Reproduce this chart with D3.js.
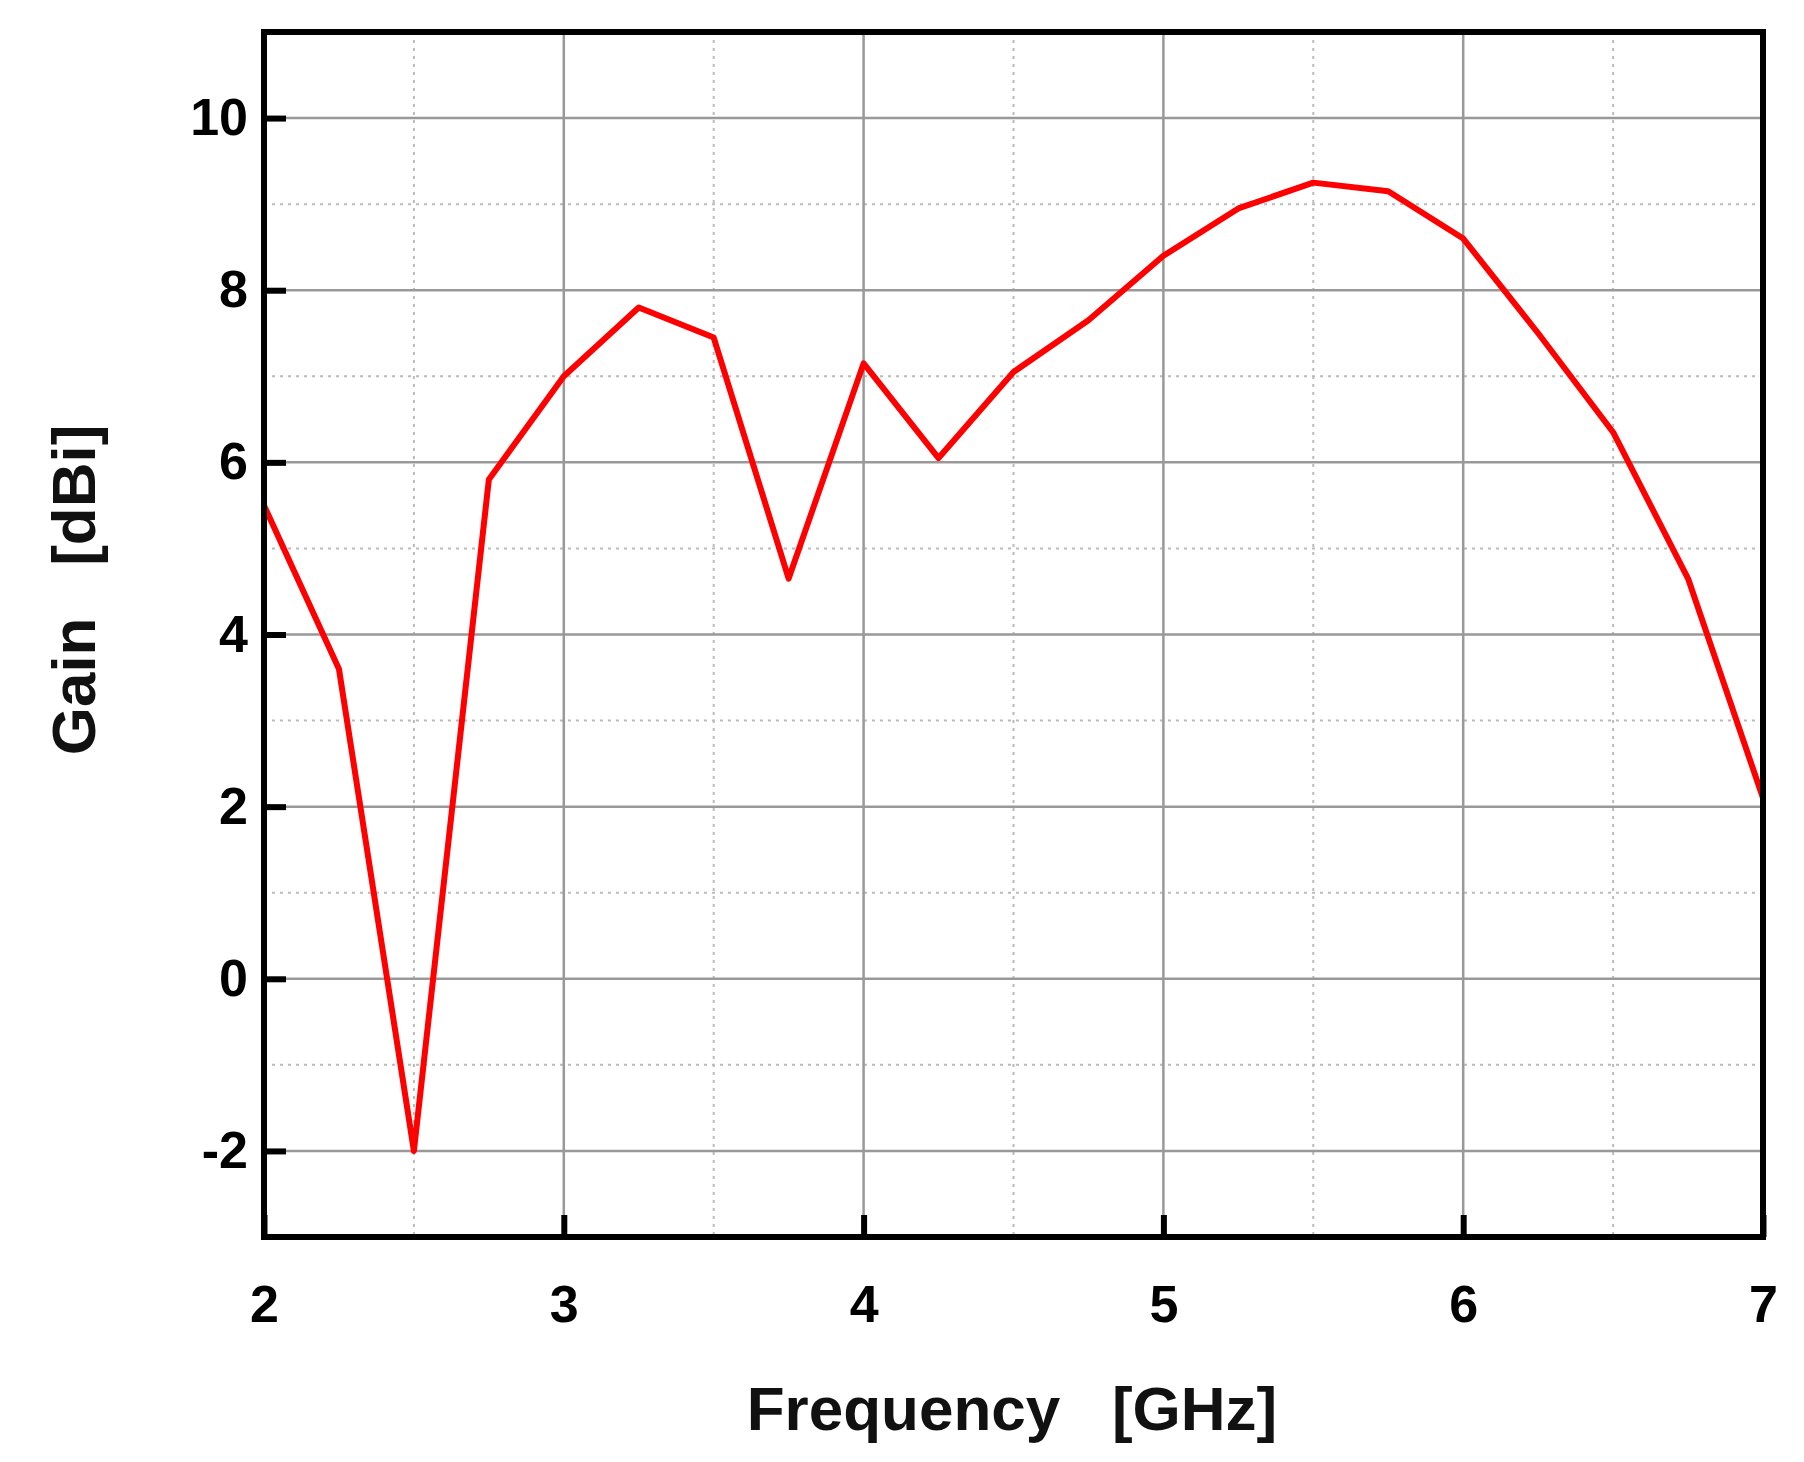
<!DOCTYPE html>
<html>
<head>
<meta charset="utf-8">
<script src="https://cdn.jsdelivr.net/npm/d3@7"></script>
<style>
  body { margin: 0; background: #fff; }
  text { font-family: "Liberation Sans", Arial, sans-serif; font-weight: bold; }
</style>
</head>
<body>
<svg id="chart" width="1804" height="1462"></svg>
<script>
// gain measured every 0.25 GHz
const freq = [2, 2.25, 2.5, 2.75, 3, 3.25, 3.5, 3.75, 4, 4.25, 4.5, 4.75, 5, 5.25, 5.5, 5.75, 6, 6.25, 6.5, 6.75, 7];
const gain = [5.5, 3.6, -2.0, 5.8, 7.0, 7.8, 7.45, 4.65, 7.15, 6.05, 7.05, 7.65, 8.4, 8.95, 9.25, 9.15, 8.6, 7.5, 6.35, 4.65, 2.1];
const xTicks = [2, 3, 4, 5, 6, 7];
const xMinor = [2.5, 3.5, 4.5, 5.5, 6.5];
const yTicks = [-2, 0, 2, 4, 6, 8, 10];
const yMinor = [-1, 1, 3, 5, 7, 9];

const m = { left: 264, right: 1763, top: 32, bottom: 1237 };
const svg = d3.select('#chart');

const x = d3.scaleLinear().domain([2, 7]).range([m.left, m.right]);
const y = d3.scaleLinear().domain([-3, 11]).range([m.bottom, m.top]);

// grid
const grid = svg.append('g');
grid.selectAll('.xmin').data(xMinor).join('line')
  .attr('x1', d => x(d)).attr('x2', d => x(d)).attr('y1', m.top).attr('y2', m.bottom)
  .attr('stroke', '#bbb').attr('stroke-width', 2).attr('stroke-dasharray', '3,5');
grid.selectAll('.ymin').data(yMinor).join('line')
  .attr('y1', d => y(d)).attr('y2', d => y(d)).attr('x1', m.left).attr('x2', m.right)
  .attr('stroke', '#bbb').attr('stroke-width', 2).attr('stroke-dasharray', '3,5');
grid.selectAll('.xmaj').data(xTicks).join('line')
  .attr('x1', d => x(d)).attr('x2', d => x(d)).attr('y1', m.top).attr('y2', m.bottom)
  .attr('stroke', '#999').attr('stroke-width', 2.5);
grid.selectAll('.ymaj').data(yTicks).join('line')
  .attr('y1', d => y(d)).attr('y2', d => y(d)).attr('x1', m.left).attr('x2', m.right)
  .attr('stroke', '#999').attr('stroke-width', 2.5);

// curve
svg.append('path')
  .datum(freq.map((f, i) => [f, gain[i]]))
  .attr('fill', 'none').attr('stroke', '#ff0000').attr('stroke-width', 6)
  .attr('stroke-linejoin', 'round')
  .attr('d', d3.line().x(d => x(d[0])).y(d => y(d[1])));

// axes
const fmt = d => String(d);
const xAxis = svg.append('g').attr('transform', `translate(0,${m.bottom})`)
  .call(d3.axisBottom(x).tickValues(xTicks).tickFormat(fmt).tickSizeInner(-22).tickSizeOuter(0).tickPadding(48));
const yAxis = svg.append('g').attr('transform', `translate(${m.left},0)`)
  .call(d3.axisLeft(y).tickValues(yTicks).tickFormat(fmt).tickSizeInner(-22).tickSizeOuter(0).tickPadding(16));
[xAxis, yAxis].forEach(a => {
  a.select('.domain').remove();
  a.selectAll('.tick line').attr('stroke', '#000').attr('stroke-width', 6);
  a.selectAll('.tick text').attr('font-size', 52).attr('fill', '#000')
    .style('font-family', '"Liberation Sans", Arial, sans-serif').style('font-weight', 'bold');
});

// frame
svg.append('rect')
  .attr('x', m.left).attr('y', m.top).attr('width', m.right - m.left).attr('height', m.bottom - m.top)
  .attr('fill', 'none').attr('stroke', '#000').attr('stroke-width', 6);

// titles
svg.append('text').attr('x', 1012).attr('y', 1430).attr('text-anchor', 'middle')
  .attr('font-size', 62).attr('fill', '#111').attr('xml:space', 'preserve')
  .text('Frequency   [GHz]');
svg.append('text').attr('transform', 'translate(95,590) rotate(-90)').attr('text-anchor', 'middle')
  .attr('font-size', 62).attr('fill', '#111').attr('xml:space', 'preserve')
  .text('Gain   [dBi]');
</script>
</body>
</html>
